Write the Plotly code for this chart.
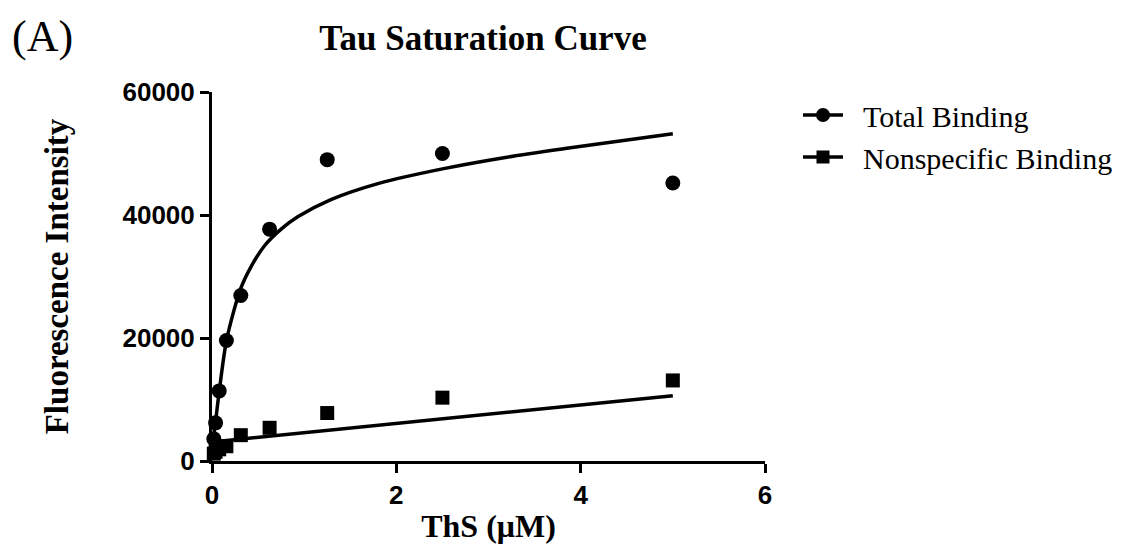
import plotly.graph_objects as go

# ---- data ----
ths_conc = [0.0195, 0.039, 0.078, 0.156, 0.3125, 0.625, 1.25, 2.5, 5.0]
total_binding = [3600, 6200, 11400, 19600, 26900, 37700, 49000, 50000, 45200]
nonspecific_binding = [1200, 1500, 1900, 2400, 4200, 5400, 7800, 10300, 13100]

# fitted curves
total_fit_x = [0, 0.02, 0.04, 0.08, 0.16, 0.31, 0.42, 0.57, 0.75, 0.93, 1.29, 1.8, 2.5, 3.2, 3.83, 5.0]
total_fit_y = [2500, 4300, 6600, 11500, 19800, 28000, 31500, 35000, 37700, 39700, 42500, 45100, 47500, 49400, 50800, 53200]
ns_fit_x = [0, 5.0]
ns_fit_y = [3100, 10600]

x_ticks = [0, 2, 4, 6]
y_ticks = [0, 20000, 40000, 60000]

BLACK = "black"
SERIF = "Liberation Serif, Times New Roman, serif"
SANS = "Liberation Sans, Arial, sans-serif"
NB = "\u00a0\u00a0"

fig = go.Figure()

# fit curves
fig.add_trace(go.Scatter(x=total_fit_x, y=total_fit_y, mode="lines",
                         line=dict(color=BLACK, width=3.5, shape="spline", smoothing=0.8),
                         showlegend=False, cliponaxis=False, hoverinfo="skip"))
fig.add_trace(go.Scatter(x=ns_fit_x, y=ns_fit_y, mode="lines",
                         line=dict(color=BLACK, width=3.5),
                         showlegend=False, cliponaxis=False, hoverinfo="skip"))

# data points
fig.add_trace(go.Scatter(x=ths_conc, y=nonspecific_binding, mode="markers",
                         marker=dict(symbol="square", size=14, color=BLACK),
                         showlegend=False, cliponaxis=False))
fig.add_trace(go.Scatter(x=ths_conc, y=total_binding, mode="markers",
                         marker=dict(symbol="circle", size=15, color=BLACK),
                         showlegend=False, cliponaxis=False))

# legend entries (line + marker symbol)
fig.add_trace(go.Scatter(x=[None], y=[None], mode="lines+markers", name=NB + "Total Binding",
                         line=dict(color=BLACK, width=3.5),
                         marker=dict(symbol="circle", size=14, color=BLACK)))
fig.add_trace(go.Scatter(x=[None], y=[None], mode="lines+markers", name=NB + "Nonspecific Binding",
                         line=dict(color=BLACK, width=3.5),
                         marker=dict(symbol="square", size=13, color=BLACK)))

fig.update_layout(
    width=1122, height=545, autosize=False,
    margin=dict(l=204, r=365, t=84, b=92),
    paper_bgcolor="white", plot_bgcolor="white",
    title=dict(text="<b>Tau Saturation Curve</b>", x=(475 - 204) / 553, xref="paper",
               y=1 - 30 / 545, yref="container", yanchor="middle", xanchor="center",
               font=dict(family=SERIF, size=35, color=BLACK)),
    legend=dict(x=(790 - 204) / 553, xanchor="left", y=(453 - 81) / 369, yanchor="top",
                font=dict(family=SERIF, size=30, color=BLACK),
                itemwidth=40, tracegroupgap=0, bgcolor="rgba(0,0,0,0)"),
    xaxis=dict(range=[0, 6], tickvals=x_ticks, ticktext=[str(v) for v in x_ticks],
               showline=True, linewidth=3, linecolor=BLACK, mirror=False,
               ticks="outside", ticklen=9, tickwidth=3, tickcolor=BLACK,
               showgrid=False, zeroline=False, automargin=False,
               tickfont=dict(family=SANS, size=26, color=BLACK, weight="bold"),
               title=dict(text="<b>ThS (μM)</b>", standoff=6,
                          font=dict(family=SERIF, size=32, color=BLACK))),
    yaxis=dict(range=[0, 60000], tickvals=y_ticks, ticktext=[str(v) for v in y_ticks],
               showline=True, linewidth=3, linecolor=BLACK, mirror=False,
               ticks="outside", ticklen=9, tickwidth=3, tickcolor=BLACK,
               showgrid=False, zeroline=False, automargin=False,
               tickfont=dict(family=SANS, size=26, color=BLACK, weight="bold"),
               title=dict(text="<b>Fluorescence Intensity</b>", standoff=44,
                          font=dict(family=SERIF, size=33, color=BLACK))),
    annotations=[dict(text="(A)", xref="paper", yref="paper",
                      x=(2 - 204) / 553, y=(453 - 29) / 369,
                      xanchor="left", yanchor="middle", showarrow=False,
                      font=dict(family=SERIF, size=44, color=BLACK))],
)

fig.write_html("out.html")
